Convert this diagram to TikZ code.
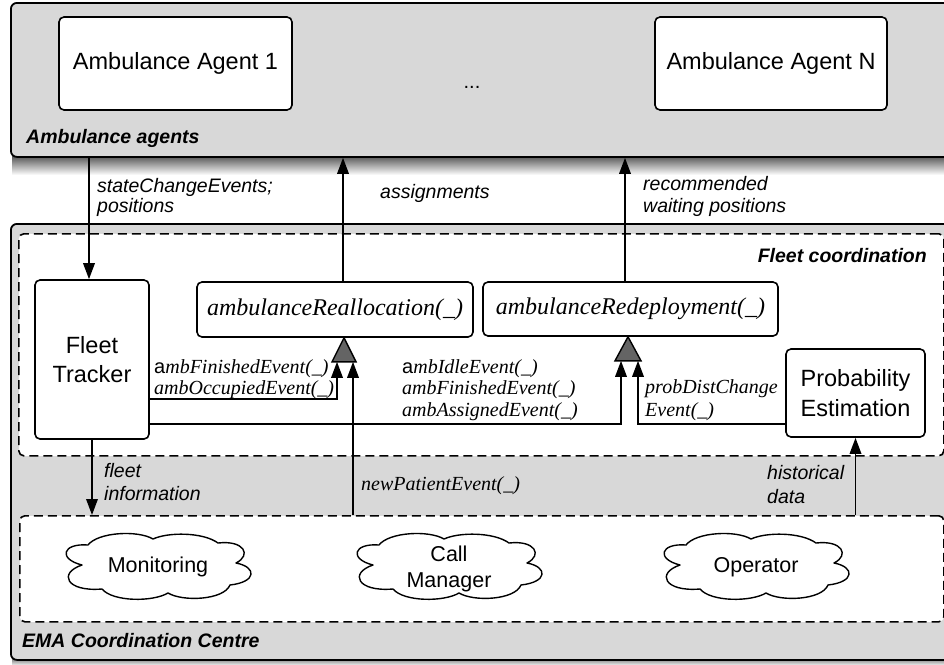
\documentclass[tikz,border=0pt]{standalone}
\usepackage{fontspec}
\setmainfont{Liberation Serif}
\setsansfont{Liberation Sans}
\usetikzlibrary{arrows.meta,calc}
\definecolor{boxgrey}{RGB}{216,216,216}
\definecolor{trigrey}{RGB}{100,100,100}
\newcommand{\mlines}[1]{\begin{tabular}[t]{@{}l@{}}#1\end{tabular}}
\newcommand{\cloudoutline}[1]{%
  \begin{scope}[shift={(#1)}]
  \draw[cloudline] (-76,-2)
    .. controls (-100,-8) and (-96,-24) .. (-70,-22)
    .. controls (-60,-35) and (-20,-37) .. (-5,-28)
    .. controls (10,-35) and (45,-35) .. (60,-24)
    .. controls (86,-27) and (94,-12) .. (78,-4)
    .. controls (99,0) and (99,15) .. (72,18)
    .. controls (66,33) and (25,35) .. (10,26)
    .. controls (-5,35) and (-45,35) .. (-56,22)
    .. controls (-92,25) and (-100,6) .. (-76,-2) -- cycle;
  \end{scope}}
\begin{document}
\begin{tikzpicture}[x=1pt,y=-1pt,
  container/.style={draw, line width=1.8pt, rounded corners=6pt, fill=boxgrey, anchor=north west, inner sep=0pt},
  dashbox/.style={draw, line width=1.6pt, dash pattern=on 9pt off 5pt, rounded corners=5pt, fill=white, anchor=north west, inner sep=0pt},
  whitebox/.style={draw, line width=1.6pt, rounded corners=5pt, fill=white, inner sep=0pt, align=center, font=\sffamily\fontsize{23.5}{29}\selectfont},
  funcbox/.style={draw, line width=1.6pt, rounded corners=5pt, fill=white, inner sep=0pt, font=\itshape\fontsize{24}{28}\selectfont},
  cloudline/.style={draw, line width=1.4pt, fill=white, line join=round},
  cloudtxt/.style={inner sep=0pt, align=center, font=\sffamily\fontsize{21.5}{26}\selectfont},
  lbl/.style={inner sep=0pt, anchor=base west, font=\sffamily\itshape\fontsize{19.5}{22}\selectfont},
  slbl/.style={inner sep=0pt, anchor=base west, font=\itshape\fontsize{20}{21.5}\selectfont},
  blbl/.style={inner sep=0pt, anchor=base west, font=\sffamily\bfseries\itshape\fontsize{19.5}{22}\selectfont},
  arr/.style={line width=1.8pt, -{Triangle[length=16pt,width=11.5pt]}},
  tri/.style={draw, line width=1.4pt, fill=trigrey, line join=miter}
]
\fill[white] (0,0) rectangle (944,664);
\useasboundingbox (0,0) rectangle (944,664);

% shadows
\shade[top color=black!70, bottom color=white] (12,155) rectangle (960,175);
\shade[top color=black!55, bottom color=white] (12,658) rectangle (960,666);

% containers
\node[container, minimum width=960pt, minimum height=154pt] (agents) at (10,2) {};
\node[container, minimum width=960pt, minimum height=436pt] (ema) at (10,223) {};
\node[dashbox, minimum width=925pt, minimum height=222pt] (fleet) at (18,233) {};
\node[dashbox, minimum width=924pt, minimum height=106pt] (clouds) at (19,515) {};

% agent boxes
\node[whitebox, minimum width=233pt, minimum height=93pt] (ag1) at (175.5,63.5) {Ambulance Agent 1};
\node[whitebox, minimum width=232pt, minimum height=93pt] (agN) at (771,63.5) {Ambulance Agent N};
\node[inner sep=0pt, anchor=base, font=\sffamily\fontsize{20}{24}\selectfont] (dots) at (472,88) {...};

% fleet coordination boxes
\node[whitebox, minimum width=114pt, minimum height=159pt] (tracker) at (92,359.5) {Fleet\\Tracker};
\node[funcbox, minimum width=276pt, minimum height=55pt] (realloc) at (335,309.5) {ambulanceReallocation(\_)};
\node[funcbox, minimum width=295pt, minimum height=54pt] (redeploy) at (630.5,309) {ambulanceRedeployment(\_)};
\node[whitebox, minimum width=139pt, minimum height=88pt, font=\sffamily\fontsize{23.5}{30}\selectfont] (prob) at (855.5,393) {Probability\\Estimation};

% clouds
\coordinate (monc) at (158,567);
\coordinate (callc) at (449,567);
\coordinate (operc) at (756,567);
\cloudoutline{monc}
\cloudoutline{callc}
\cloudoutline{operc}
\node[cloudtxt] (mon) at (monc) {Monitoring};
\node[cloudtxt] (call) at ([yshift=-2pt]callc) {Call\\Manager};
\node[cloudtxt] (oper) at (operc) {Operator};

% helper coordinates
\coordinate (t1) at ([xshift=9pt]realloc.south);
\coordinate (t2) at ([xshift=-2.5pt]redeploy.south);
\coordinate (a1) at ($(t1)+(-7,24)$);
\coordinate (a2) at ($(t1)+(9,24)$);
\coordinate (b1) at ($(t2)+(-7,24)$);
\coordinate (b2) at ($(t2)+(10,24)$);
\coordinate (h1) at (0,399);
\coordinate (h2) at (0,424);
\coordinate (sc) at ([xshift=-3pt]tracker.north);
\coordinate (asg) at ([xshift=8pt]realloc.north);
\coordinate (rec) at ([xshift=-5.5pt]redeploy.north);

% connectors
\draw[arr] (sc |- agents.south) -- (sc);
\draw[arr] (asg) -- (asg |- agents.south);
\draw[arr] (rec) -- (rec |- agents.south);
\draw[arr] (tracker.south) -- (tracker.south |- clouds.north);
\draw[arr] (tracker.east |- h1) -| (a1);
\draw[arr] (tracker.east |- h2) -| (b1);
\draw[arr] (prob.west |- h2) -| (b2);
\draw[arr] (a2 |- clouds.north) -- (a2);
\draw[arr] (prob.south |- clouds.north) -- (prob.south);

% generalisation triangles
\draw[tri] (t1) -- ++(-12,24) -- ++(24,0) -- cycle;
\draw[tri] (t2) -- ++(-13,24) -- ++(26,0) -- cycle;

% labels
\node[blbl] (laa) at (26,143) {Ambulance agents};
\node[blbl] (lema) at (22,647) {EMA Coordination Centre};
\node[blbl, anchor=base east] (lfc) at (927,262) {Fleet coordination};
\node[lbl, font=\sffamily\itshape\fontsize{19.5}{20.5}\selectfont] (lsc) at (97,192) {\mlines{stateChangeEvents;\\positions}};
\node[lbl] (lasg) at (380,198) {assignments};
\node[lbl] (lrec) at (643,190) {\mlines{recommended\\waiting positions}};
\node[slbl] (lev1) at (154,373) {\mlines{{\sffamily\upshape a}mbFinishedEvent(\_)\\ambOccupiedEvent(\_)}};
\node[slbl] (lev2) at (402,373) {\mlines{{\sffamily\upshape a}mbIdleEvent(\_)\\ambFinishedEvent(\_)\\ambAssignedEvent(\_)}};
\node[slbl, font=\itshape\fontsize{20}{23}\selectfont] (lev3) at (645,393) {\mlines{probDistChange\\Event(\_)}};
\node[lbl, font=\sffamily\itshape\fontsize{19.5}{23}\selectfont] (lfi) at (104,477) {\mlines{fleet\\information}};
\node[slbl] (lnp) at (361,490) {newPatientEvent(\_)};
\node[lbl, font=\sffamily\itshape\fontsize{19.5}{24}\selectfont] (lhd) at (767,479) {\mlines{historical\\data}};
\end{tikzpicture}
\end{document}
